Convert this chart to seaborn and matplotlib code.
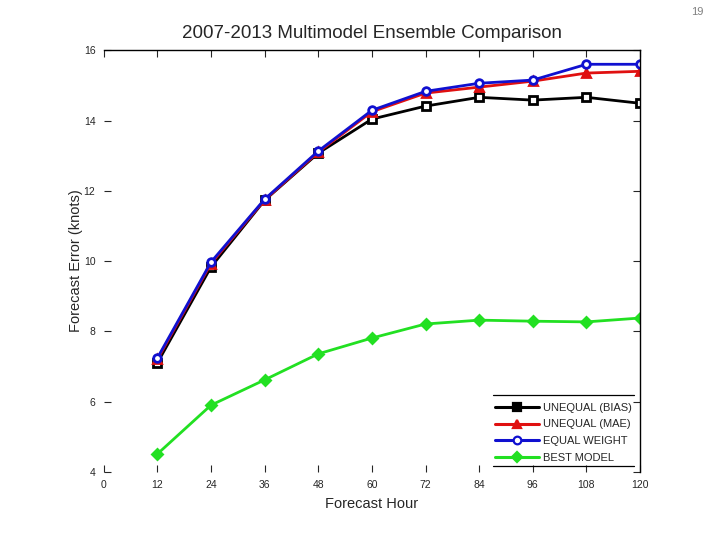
import matplotlib
matplotlib.use("Agg")
import matplotlib.pyplot as plt
import seaborn as sns
import pandas as pd
from matplotlib.lines import Line2D

# forecast hours and errors (knots)
hours = [12, 24, 36, 48, 60, 72, 84, 96, 108, 120]
unequal_bias = [7.10, 9.83, 11.73, 13.07, 14.04, 14.41, 14.66, 14.58, 14.66, 14.49]
unequal_mae = [7.20, 9.93, 11.74, 13.10, 14.25, 14.78, 14.95, 15.12, 15.35, 15.40]
equal_weight = [7.24, 9.97, 11.76, 13.13, 14.29, 14.83, 15.06, 15.15, 15.60, 15.60]
best_model = [4.51, 5.90, 6.62, 7.36, 7.81, 8.21, 8.32, 8.29, 8.27, 8.38]

names = ["UNEQUAL (BIAS)", "UNEQUAL (MAE)", "EQUAL WEIGHT", "BEST MODEL"]
xticks = [0, 12, 24, 36, 48, 60, 72, 84, 96, 108, 120]
yticks = [4, 6, 8, 10, 12, 14, 16]

sns.set_style("white")
plt.rcParams["font.family"] = ["Liberation Sans", "DejaVu Sans"]

fig = plt.figure(figsize=(7.2, 5.4), dpi=100)
ax = fig.add_axes([0.144, 0.126, 0.745, 0.781])

# colour, marker, face colour, size per series
styles = [
    ("#000000", "s", "white", 5.5),
    ("#e01010", "^", "#e01010", 5.5),
    ("#1010d0", "o", "white", 5.5),
    ("#22e022", "D", "#22e022", 5),
]
series = [unequal_bias, unequal_mae, equal_weight, best_model]

handles = []
for name, vals, (c, m, fc, ms) in zip(names, series, styles):
    df = pd.DataFrame({"hour": hours, "err": vals})
    sns.lineplot(data=df, x="hour", y="err", ax=ax, color=c, linewidth=2.0,
                 marker=m, markersize=ms, markerfacecolor=fc,
                 markeredgecolor=c, markeredgewidth=2.0)
    handles.append(Line2D([0], [0], color=c, lw=2.2, marker=m, markersize=ms,
                          markerfacecolor=c if m == "s" else fc,
                          markeredgecolor=c, markeredgewidth=1.6))

ax.set_xlim(0, 120)
ax.set_ylim(4, 16)
ax.set_xticks(xticks)
ax.set_yticks(yticks)
ax.tick_params(axis="both", which="both", direction="in", length=5, width=0.8,
               labelsize=7.5, top=True, right=True, bottom=True, left=True)
ax.tick_params(axis="x", pad=6)
ax.tick_params(axis="y", pad=6)

for side in ["top", "right"]:
    ax.spines[side].set_visible(True)
    ax.spines[side].set_color("black")
    ax.spines[side].set_linewidth(1.0)
for side in ["left", "bottom"]:
    ax.spines[side].set_visible(False)

ax.set_title("2007-2013 Multimodel Ensemble Comparison", fontsize=13.5, pad=9)
ax.set_xlabel("Forecast Hour", fontsize=10.5, labelpad=5)
ax.set_ylabel("Forecast Error (knots)", fontsize=10.5, labelpad=0.5)

leg = ax.legend(handles, names, loc="lower right", bbox_to_anchor=(0.998, 0.005),
                frameon=False, fontsize=8, handlelength=4, handletextpad=0.4,
                labelspacing=0.62, borderaxespad=0.2)

# horizontal rules above and below the legend
ax.plot([0.726, 0.989], [0.182, 0.182], transform=ax.transAxes, color="black", lw=0.9)
ax.plot([0.726, 0.989], [0.014, 0.014], transform=ax.transAxes, color="black", lw=0.9)

fig.text(0.968, 0.978, "19", fontsize=8, color="#808080", ha="center", va="center")

fig.savefig("out.png", dpi=100)
